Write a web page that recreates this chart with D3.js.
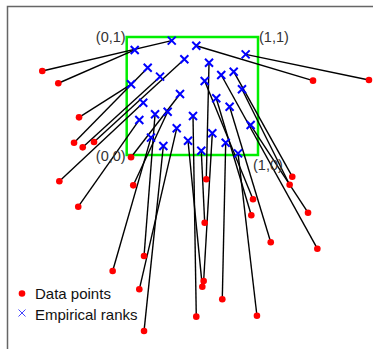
<!DOCTYPE html>
<html><head><meta charset="utf-8">
<script src="https://cdn.jsdelivr.net/npm/d3@7"></script>
<style>html,body{margin:0;padding:0;background:#fff}svg{display:block}</style>
</head><body>
<script>
// Data points (observations), in copula-square units
const pointX = [-0.643,-0.521,-0.363,-0.401,-0.335,-0.249,-0.513,-0.369,0.033,0.050,-0.107,0.132,0.132,0.096,1.419,1.845,0.606,0.530,0.992,0.728,0.594,0.576,0.586,0.962,0.949,1.097,1.452,1.261,1.241,1.381];
const pointY = [0.712,0.608,0.319,0.104,0.065,0.110,-0.223,-0.438,-0.019,-0.257,-0.983,-0.856,-1.492,-1.138,0.630,0.636,-0.206,-1.370,-1.362,-1.223,-0.574,-1.116,-1.068,-0.375,-0.511,-0.740,-0.794,-0.184,-0.252,-0.489];
// Empirical ranks (pseudo-observations) matched to each point
const rankX = [0.343,0.061,0.033,0.160,0.254,0.439,0.126,0.096,0.406,0.312,0.185,0.216,0.279,0.381,0.530,0.906,0.627,0.505,0.848,0.754,0.568,0.467,0.652,0.594,0.682,0.784,0.720,0.815,0.878,0.944];
const rankY = [0.969,0.890,0.599,0.740,0.664,0.811,0.443,0.297,0.517,0.367,0.147,0.345,0.076,0.226,0.926,0.853,0.782,0.331,0.014,0.104,0.036,0.121,0.184,0.627,0.481,0.409,0.678,0.706,0.557,0.254];
const cornerLabels = ["(0,0)","(1,0)","(0,1)","(1,1)"];
const legendLabels = ["Data points","Empirical ranks"];

const W = 373, H = 349;
const svg = d3.select("body").append("svg").attr("width", W).attr("height", H);
const x = d3.scaleLinear().domain([0,1]).range([126.7,258]);
const y = d3.scaleLinear().domain([0,1]).range([155,37]);

// frame
svg.append("path").attr("d", `M7.5,${H} V6.5 H${W}`).attr("fill","none").attr("stroke","#666").attr("stroke-width",1.5);

// unit square
svg.append("rect").attr("x", x(0)).attr("y", y(1)).attr("width", x(1)-x(0)).attr("height", y(0)-y(1))
  .attr("fill","none").attr("stroke","#00ee00").attr("stroke-width",2.5);

const idx = d3.range(pointX.length);
// connecting segments
svg.append("g").selectAll("line").data(idx).join("line")
  .attr("x1", i => x(pointX[i])).attr("y1", i => y(pointY[i]))
  .attr("x2", i => x(rankX[i])).attr("y2", i => y(rankY[i]))
  .attr("stroke","#000").attr("stroke-width",1.4);

// corner labels
const font = "Liberation Sans, Arial, sans-serif";
const cl = [
  {t:cornerLabels[0], px:x(0)-1, py:y(0)+6, a:"end"},
  {t:cornerLabels[1], px:x(1)-5, py:y(0)+15, a:"start"},
  {t:cornerLabels[2], px:x(0)-1, py:y(1)+5, a:"end"},
  {t:cornerLabels[3], px:x(1)+1, py:y(1)+5, a:"start"}
];
svg.append("g").selectAll("text").data(cl).join("text")
  .attr("x", d => d.px).attr("y", d => d.py).attr("text-anchor", d => d.a)
  .attr("font-family", font).attr("font-size", 14.5).attr("fill","#333").text(d => d.t);

// crosses
const cs = 4;
svg.append("g").selectAll("path").data(idx).join("path")
  .attr("d", i => { const cx = x(rankX[i]), cy = y(rankY[i]);
     return `M${cx-cs},${cy-cs}L${cx+cs},${cy+cs}M${cx-cs},${cy+cs}L${cx+cs},${cy-cs}`; })
  .attr("stroke","#0000ff").attr("stroke-width",2).attr("fill","none");

// data points
svg.append("g").selectAll("circle").data(idx).join("circle")
  .attr("cx", i => x(pointX[i])).attr("cy", i => y(pointY[i])).attr("r", 3.3).attr("fill","#ff0000");

// legend
const lg = svg.append("g");
lg.append("circle").attr("cx",22).attr("cy",293.5).attr("r",3.3).attr("fill","#ff0000");
lg.append("path").attr("d","M18.5,309.5L25.5,316.5M18.5,316.5L25.5,309.5").attr("stroke","#4444ff").attr("stroke-width",1);
lg.selectAll("text").data(legendLabels).join("text")
  .attr("x",35).attr("y",(d,i) => 299 + i*20.5)
  .attr("font-family", font).attr("font-size", 15).attr("fill","#111").text(d => d);
</script>
</body></html>
